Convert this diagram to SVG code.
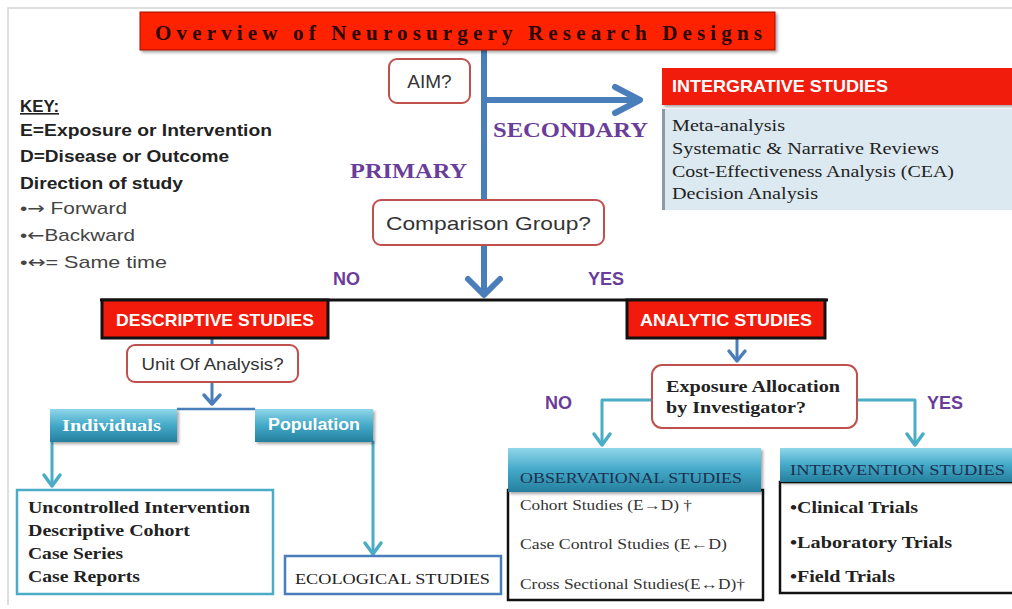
<svg xmlns="http://www.w3.org/2000/svg" width="1012" height="609" viewBox="0 0 1012 609">
<defs>
<linearGradient id="teal" x1="0" y1="0" x2="0" y2="1">
<stop offset="0" stop-color="#8fd6ea"/>
<stop offset="0.5" stop-color="#43a9c8"/>
<stop offset="1" stop-color="#257f9e"/>
</linearGradient>
<filter id="sh" x="-5%" y="-10%" width="115%" height="130%">
<feDropShadow dx="2" dy="2" stdDeviation="1.5" flood-color="#000" flood-opacity="0.35"/>
</filter>
</defs>
<style>
.q{fill:#fff;stroke:#c0504d;stroke-width:2}
.qt{font-family:"Liberation Sans",Arial,sans-serif;font-size:19px;fill:#333}
.red{fill:#f21a0a;stroke:#111;stroke-width:3}
.wt{font-family:"Liberation Sans",Arial,sans-serif;font-weight:bold;font-size:17px;fill:#fff}
.pur{font-family:"Liberation Serif","Times New Roman",serif;font-weight:bold;font-size:21px;fill:#6a3d9a}
.purs{font-family:"Liberation Sans",Arial,sans-serif;font-weight:bold;font-size:18px;fill:#6a3d9a}
.ser{font-family:"Liberation Serif","Times New Roman",serif}
.dk{fill:#222}
.key{font-family:"Liberation Sans",Arial,sans-serif;font-size:16px;fill:#222}
.kb{font-family:"Liberation Sans",Arial,sans-serif;font-size:17px;fill:#444}
.arr{font-family:"DejaVu Sans",sans-serif}
.con{fill:none;stroke-linecap:round;stroke-linejoin:round}
.blue{stroke:#4a7ebb}
.tl{stroke:#4bacc6}
</style>
<rect x="0" y="0" width="1012" height="609" fill="#fff"/>
<path d="M8,605 V8 H1012" fill="none" stroke="#d4d4d4" stroke-width="1.5"/>

<g id="connectors">
<line class="con blue" x1="484" y1="50" x2="484" y2="292" stroke-width="6"/>
<polyline class="con blue" points="468,279 484,295 500,279" stroke-width="6"/>
<line class="con blue" x1="487" y1="100" x2="639" y2="100" stroke-width="6"/>
<polyline class="con blue" points="615,87 640,100 615,113" stroke-width="6"/>
<line x1="100" y1="300" x2="828" y2="300" stroke="#111" stroke-width="3"/>
<line class="con blue" x1="212" y1="338" x2="212" y2="403" stroke-width="3"/>
<polyline class="con blue" points="204,395 212,404 220,395" stroke-width="3.5"/>
<line x1="177" y1="409" x2="255" y2="409" stroke="#4a7ebb" stroke-width="2.5"/>
<line class="con tl" x1="52" y1="442" x2="52" y2="485" stroke-width="3"/>
<polyline class="con tl" points="44,475 52,486 60,475" stroke-width="3.5"/>
<line class="con tl" x1="373" y1="442" x2="373" y2="553" stroke-width="3"/>
<polyline class="con tl" points="365,543 373,554 381,543" stroke-width="3.5"/>
<line class="con blue" x1="737" y1="338" x2="737" y2="360" stroke-width="3"/>
<polyline class="con blue" points="729,351 737,361 745,351" stroke-width="3.5"/>
<path class="con tl" d="M652,400 H602 V443" stroke-width="3"/>
<polyline class="con tl" points="594,434 602,445 610,434" stroke-width="3.5"/>
<path class="con tl" d="M857,400 H915 V443" stroke-width="3"/>
<polyline class="con tl" points="907,434 915,445 923,434" stroke-width="3.5"/>
</g>

<g id="title">
<rect x="140" y="12" width="635" height="38" fill="#ff2200" stroke="#a01000" stroke-width="1" filter="url(#sh)"/>
<text x="155" y="40" class="ser" font-weight="bold" style="font-size:21px;fill:#2a0606" textLength="607" lengthAdjust="spacing">Overview of  Neurosurgery Research Designs</text>
</g>

<g id="key">
<text x="20" y="112" class="key" font-weight="bold" text-decoration="underline" textLength="39" lengthAdjust="spacingAndGlyphs">KEY:</text>
<text x="20" y="136" class="key" font-weight="bold" textLength="252" lengthAdjust="spacingAndGlyphs">E=Exposure or Intervention</text>
<text x="20" y="162" class="key" font-weight="bold" textLength="209" lengthAdjust="spacingAndGlyphs">D=Disease or Outcome</text>
<text x="20" y="189" class="key" font-weight="bold" textLength="163" lengthAdjust="spacingAndGlyphs">Direction of study</text>
<text x="20" y="214" class="kb" textLength="107" lengthAdjust="spacingAndGlyphs">•<tspan class="arr">→</tspan> Forward</text>
<text x="20" y="241" class="kb" textLength="115" lengthAdjust="spacingAndGlyphs">•<tspan class="arr">←</tspan>Backward</text>
<text x="20" y="268" class="kb" textLength="147" lengthAdjust="spacingAndGlyphs">•<tspan class="arr">↔</tspan>= Same time</text>
</g>

<g id="aim">
<rect class="q" x="389" y="59" width="81" height="44" rx="8"/>
<text x="429.5" y="88" class="qt" text-anchor="middle">AIM?</text>
</g>

<g id="labels">
<text x="493" y="137" class="pur" textLength="155" lengthAdjust="spacingAndGlyphs">SECONDARY</text>
<text x="350" y="178" class="pur" textLength="117" lengthAdjust="spacingAndGlyphs">PRIMARY</text>
<text x="333" y="285" class="purs">NO</text>
<text x="588" y="285" class="purs">YES</text>
<text x="545" y="409" class="purs">NO</text>
<text x="927" y="409" class="purs">YES</text>
</g>

<g id="integrative">
<rect x="662" y="68" width="352" height="37" fill="#f21a0a" filter="url(#sh)"/>
<text x="672" y="92" class="wt" textLength="216" lengthAdjust="spacingAndGlyphs">INTERGRATIVE STUDIES</text>
<rect x="662" y="109" width="352" height="101" fill="#dce9f0"/>
<rect x="662" y="109" width="3" height="101" fill="#8a9aa6"/>
<text class="ser dk" font-size="16">
<tspan x="672" y="131" textLength="113" lengthAdjust="spacingAndGlyphs">Meta-analysis</tspan>
<tspan x="672" y="154" textLength="267" lengthAdjust="spacingAndGlyphs">Systematic  &amp; Narrative Reviews</tspan>
<tspan x="672" y="177" textLength="282" lengthAdjust="spacingAndGlyphs">Cost-Effectiveness Analysis (CEA)</tspan>
<tspan x="672" y="199" textLength="146" lengthAdjust="spacingAndGlyphs">Decision Analysis</tspan>
</text>
</g>

<g id="comparison">
<rect class="q" x="373" y="200" width="231" height="45" rx="8"/>
<text x="488.5" y="230" class="qt" text-anchor="middle" textLength="205" lengthAdjust="spacingAndGlyphs">Comparison Group?</text>
</g>

<g id="descriptive">
<rect class="red" x="102" y="300" width="226" height="38"/>
<text x="215" y="326" class="wt" text-anchor="middle" textLength="198" lengthAdjust="spacingAndGlyphs">DESCRIPTIVE STUDIES</text>
</g>

<g id="analytic">
<rect class="red" x="627" y="300" width="198" height="38"/>
<text x="726" y="326" class="wt" text-anchor="middle" textLength="172" lengthAdjust="spacingAndGlyphs">ANALYTIC STUDIES</text>
</g>

<g id="unit">
<rect class="q" x="127" y="345" width="171" height="37" rx="8"/>
<text x="212.5" y="370" class="qt" style="font-size:16px" text-anchor="middle" textLength="142" lengthAdjust="spacingAndGlyphs">Unit Of Analysis?</text>
</g>

<g id="individuals">
<rect x="50" y="409" width="127" height="33" fill="url(#teal)" filter="url(#sh)"/>
<text x="62" y="431" class="ser" font-weight="bold" font-size="17" style="fill:#fff" textLength="99" lengthAdjust="spacingAndGlyphs">Individuals</text>
</g>

<g id="population">
<rect x="255" y="409" width="118" height="33" fill="url(#teal)" filter="url(#sh)"/>
<text x="314" y="430" class="wt" text-anchor="middle" style="font-size:16px" textLength="92" lengthAdjust="spacingAndGlyphs">Population</text>
</g>

<g id="exposure">
<rect class="q" x="652" y="365" width="205" height="63" rx="10"/>
<text class="ser dk" font-weight="bold" font-size="16">
<tspan x="666" y="392" textLength="174" lengthAdjust="spacingAndGlyphs">Exposure Allocation</tspan>
<tspan x="666" y="413" textLength="140" lengthAdjust="spacingAndGlyphs">by Investigator?</tspan>
</text>
</g>

<g id="descriptive-list">
<rect x="17" y="490" width="256" height="104" fill="#fff" stroke="#4bacc6" stroke-width="2.5"/>
<text class="ser dk" font-weight="bold" font-size="17">
<tspan x="28" y="513" textLength="222" lengthAdjust="spacingAndGlyphs">Uncontrolled Intervention</tspan>
<tspan x="28" y="536" textLength="162" lengthAdjust="spacingAndGlyphs">Descriptive Cohort</tspan>
<tspan x="28" y="559" textLength="95" lengthAdjust="spacingAndGlyphs">Case Series</tspan>
<tspan x="28" y="582" textLength="112" lengthAdjust="spacingAndGlyphs">Case Reports</tspan>
</text>
</g>

<g id="ecological">
<rect x="285" y="556" width="216" height="38" fill="#fff" stroke="#4a7ebb" stroke-width="2.5"/>
<text x="295" y="584" class="ser dk" font-size="15" textLength="195" lengthAdjust="spacingAndGlyphs">ECOLOGICAL STUDIES</text>
</g>

<g id="observational">
<rect x="508" y="490" width="255" height="110" fill="#fff" stroke="#111" stroke-width="2.5"/>
<rect x="508" y="448" width="253" height="44" fill="url(#teal)" filter="url(#sh)"/>
<text x="520" y="483" class="ser" font-size="15" style="fill:#1d2f4f" textLength="222" lengthAdjust="spacingAndGlyphs">OBSERVATIONAL STUDIES</text>
<text class="ser" font-size="14" style="fill:#333">
<tspan x="520" y="510" textLength="172" lengthAdjust="spacingAndGlyphs">Cohort Studies (E→D) †</tspan>
<tspan x="520" y="549" textLength="207" lengthAdjust="spacingAndGlyphs">Case Control Studies (E←D)</tspan>
<tspan x="520" y="589" textLength="225" lengthAdjust="spacingAndGlyphs">Cross Sectional Studies(E↔D)†</tspan>
</text>
</g>

<g id="intervention">
<rect x="780" y="482" width="240" height="111" fill="#fff" stroke="#111" stroke-width="2.5"/>
<rect x="780" y="448" width="240" height="34" fill="url(#teal)" filter="url(#sh)"/>
<text x="790" y="475" class="ser" font-size="15" style="fill:#1d2f4f" textLength="215" lengthAdjust="spacingAndGlyphs">INTERVENTION STUDIES</text>
<text class="ser dk" font-weight="bold" font-size="17">
<tspan x="790" y="513" textLength="128" lengthAdjust="spacingAndGlyphs">•Clinical Trials</tspan>
<tspan x="790" y="548" textLength="162" lengthAdjust="spacingAndGlyphs">•Laboratory Trials</tspan>
<tspan x="790" y="582" textLength="105" lengthAdjust="spacingAndGlyphs">•Field Trials</tspan>
</text>
</g>
</svg>
